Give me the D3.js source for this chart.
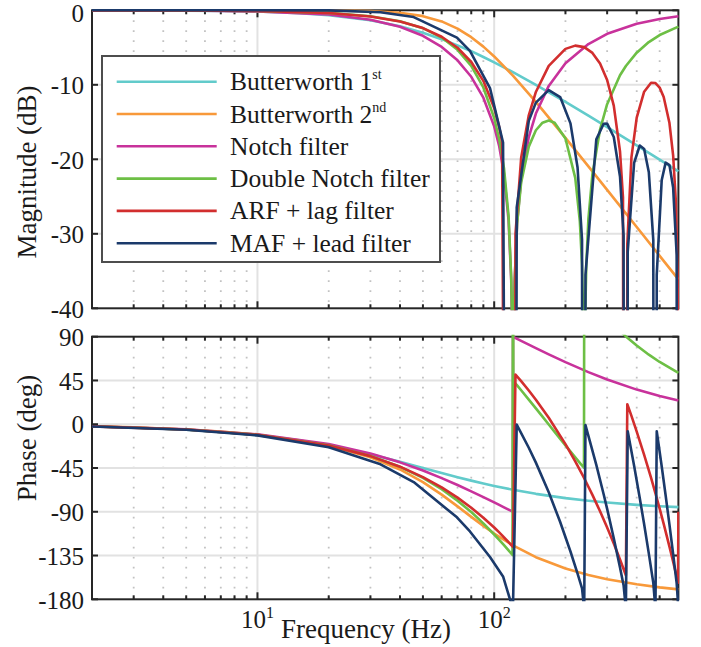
<!DOCTYPE html>
<html><head><meta charset="utf-8">
<script src="https://cdn.jsdelivr.net/npm/d3@7"></script>
<style>
body{margin:0;background:#fff}
text{font-family:"Liberation Serif","Times New Roman",serif;fill:#1a1a1a}
</style>
</head><body>
<svg id="c" width="701" height="647"></svg>
<script>
// ---------------- DATA ----------------
const seriesNames = ["Butterworth 1", "Butterworth 2", "Notch filter", "Double Notch filter", "ARF + lag filter", "MAF + lead filter"];
const seriesSup = ["st", "nd", "", "", "", ""];
const seriesColors = ["#62cbcb", "#f8993a", "#c8329b", "#6dbf45", "#d22e2e", "#1b3a6b"];

const magTicks = [-40, -30, -20, -10, 0];
const phaseTicks = [-180, -135, -90, -45, 0, 45, 90];
const freqMajor = [10, 100];
const freqMajorLabels = ["1", "2"];   // exponents of 10
const freqMinor = [2,3,4,5,6,7,8,9,20,30,40,50,60,70,80,90,200,300,400,500];

// Butterworth 1st / 2nd
const freqSmooth = [2,3,5,7,10,15,20,30,40,50,60,70,80,90,100,120,150,200,250,300,400,500,600];
const bw1Mag = [-0.007,-0.016,-0.043,-0.084,-0.170,-0.374,-0.645,-1.335,-2.148,-3.010,-3.874,-4.713,-5.487,-6.274,-6.990,-8.299,-10.000,-12.304,-14.150,-15.682,-18.129,-20.043,-21.614];
const bw1Phase = [-2.29,-3.43,-5.71,-7.97,-11.31,-16.70,-21.80,-30.96,-38.66,-45.00,-50.19,-54.46,-57.99,-60.95,-63.43,-67.38,-71.57,-75.96,-78.69,-80.54,-82.87,-84.29,-85.24];
const bw2Mag = [0,0,-0.0001,-0.0003,-0.0014,-0.007,-0.022,-0.110,-0.338,-0.783,-1.488,-2.453,-3.607,-4.876,-6.19,-8.78,-12.30,-17.12,-20.95,-24.10,-29.08,-32.96,-36.12];
const bw2Phase = [-2.16,-3.24,-5.41,-7.58,-10.87,-16.41,-22.1,-33.96,-46.5,-59.5,-72.35,-84.42,-95.22,-104.54,-112.4,-124.6,-136.7,-148.3,-155.0,-159.3,-164.6,-167.75,-169.8];

// Notch filter
const notchFreq = [2,5,10,20,30,40,50,60,70,80,90,100,105,110,115,118,119,119.9,120.1,121,122,125,130,140,150,170,200,250,300,400,500,600];
const notchMag = [-0.006,-0.036,-0.142,-0.565,-1.258,-2.213,-3.427,-4.914,-6.717,-8.924,-11.73,-15.58,-18.25,-21.95,-28.15,-36.2,-42.3,-62.3,-62.3,-42.3,-36.4,-28.5,-22.67,-17.02,-13.86,-10.15,-7.12,-4.53,-3.16,-1.80,-1.16,-0.81];
const notchPhase = [-2.07,-5.18,-10.34,-20.44,-30.1,-39.2,-47.6,-55.4,-62.5,-69.0,-75.0,-80.4,-82.98,-85.42,-87.76,-89.1,-89.56,-89.96,89.96,89.56,89.13,87.85,85.78,81.9,78.3,71.9,63.87,53.6,46.0,35.6,28.97,24.4];

// Double notch filter
const dnFreq = [2,5,10,20,30,40,50,60,70,80,90,100,105,110,115,118,119,119.5,120,120.5,121,122,125,130,140,150,160,170,180,200,220,230,235,238,239.5,240,240.5,242,245,250,260,280,300,340,360,400,450,500,600];
const dnMag = [-0.003,-0.021,-0.085,-0.346,-0.80,-1.47,-2.40,-3.66,-5.30,-7.47,-10.36,-14.45,-17.3,-21.2,-27.6,-35.8,-42.0,-48.1,-300,-48.2,-42.2,-36.3,-28.6,-23.1,-18.3,-16.1,-15.09,-14.8,-15.09,-17.2,-22.5,-28.3,-34.2,-42.1,-54.1,-300,-54.1,-42.1,-34.1,-28.0,-22.0,-16.0,-12.6,-8.72,-7.47,-5.69,-4.26,-3.32,-2.19];
const dnPhase = [-2.15,-5.37,-10.75,-21.6,-32.6,-43.8,-55.2,-66.8,-78.55,-90.3,-101.9,-113.4,-118.9,-124.4,-129.8,-132.9,-133.96,-134.5,200,44.5,43.97,42.94,39.89,34.9,25.35,16.3,7.8,-0.24,-7.8,-21.7,-34.0,-39.68,-42.4,-43.96,-44.7,134.8,134.7,133.97,132.4,129.97,125.2,116.6,108.8,95.8,90.3,80.9,71.5,64.0,52.85];

// ARF + lag filter
const arfFreq = [2,5,10,20,30,40,50,60,70,80,90,100,105,108,120,123,130,140,150,170,200,220,240,260,280,300,320,340,350,360,365,380,400,430,460,480,500,520,550,570,585,595,598,600];
const arfMag = [-0.004,-0.023,-0.091,-0.364,-0.829,-1.497,-2.39,-3.55,-5.03,-6.94,-9.47,-13.1,-15.68,-17.66,-300,-30.04,-19.79,-14.10,-10.96,-7.45,-5.18,-4.74,-4.94,-5.72,-7.14,-9.35,-12.80,-18.94,-25.09,-300,-31.39,-19.74,-14.40,-10.93,-9.73,-9.76,-10.38,-11.64,-15.14,-19.46,-25.53,-35.15,-43.1,-300];
const arfPhase = [-2.19,-5.49,-10.97,-21.91,-32.8,-43.63,-54.36,-64.98,-75.49,-85.87,-96.11,-106.22,-111.22,-114.2,-126.03,51.05,44.27,34.69,25.23,6.64,-20.5,-38.13,-55.49,-72.6,-89.49,-106.19,-122.72,-139.11,-147.26,-155.38,20.58,8.6,-7.58,-31.5,-55.27,-71.03,-86.74,-102.4,-125.8,-141.36,-153,-160.75,-163.07,-90];

// MAF + lead filter
const mafFreq = [2,5,10,20,33.1,45.7,69.6,79,96,109,120,124.5,140,150,170,190,210,225,235,240,243,270,290,300,320,340,352,360,366.5,390,412,430,450,470,480,486,510,530,550,570,590,600];
const mafMag = [0,0.003,0.009,-0.014,-0.26,-0.91,-3.66,-5.45,-10.44,-17.75,-300,-26.47,-14.84,-12.39,-10.71,-11.64,-15.18,-21.1,-30.8,-300,-35.5,-17.32,-15.22,-15.21,-17.01,-22.31,-30.23,-300,-32.4,-20.49,-18.15,-18.63,-21.73,-30.84,-300,-35.5,-22.82,-20.45,-20.77,-23.79,-32.81,-300];
const mafPhase = [-2.26,-5.67,-11.46,-23.67,-41.23,-59.44,-95.74,-110.22,-136.48,-156.54,-190,-0.4,-24.18,-39.48,-70.02,-100.47,-130.85,-153.6,-168.75,-190,-0.87,-41.76,-71.97,-87.07,-117.25,-147.41,-165.5,-190,-7.3,-42.7,-75.82,-102.9,-133,-163.1,-190,-7.14,-43.2,-73.3,-103.3,-133.4,-163.45,-190];

// ---------------- CHART ----------------
const zip = (f, v) => f.map((d, i) => [d, v[i]]);
const series = [
  {mag: zip(freqSmooth, bw1Mag), ph: zip(freqSmooth, bw1Phase)},
  {mag: zip(freqSmooth, bw2Mag), ph: zip(freqSmooth, bw2Phase)},
  {mag: zip(notchFreq, notchMag), ph: zip(notchFreq, notchPhase)},
  {mag: zip(dnFreq, dnMag), ph: zip(dnFreq, dnPhase)},
  {mag: zip(arfFreq, arfMag), ph: zip(arfFreq, arfPhase)},
  {mag: zip(mafFreq, mafMag), ph: zip(mafFreq, mafPhase)}
];

const svg = d3.select("#c");
const x = d3.scaleLog().domain([2, 600]).range([92, 678.4]);
const X0 = x.range()[0], X1 = x.range()[1];

const panels = [
  {key: "mag", y: d3.scaleLinear().domain([-40, 0]).range([308.3, 10.3]), ticks: magTicks},
  {key: "ph", y: d3.scaleLinear().domain([-180, 90]).range([599.3, 336.7]), ticks: phaseTicks}
];

const defs = svg.append("defs");

panels.forEach((p, pi) => {
  const y = p.y;
  const Y0 = y.range()[1], Y1 = y.range()[0];
  const g = svg.append("g");

  defs.append("clipPath").attr("id", "clip" + pi)
    .append("rect").attr("x", X0 - 1).attr("y", Y0 - 2).attr("width", X1 - X0 + 2).attr("height", Y1 - Y0 + 4);

  // minor x grid (dotted)
  g.selectAll(".mg").data(freqMinor).join("line")
    .attr("x1", d => x(d)).attr("x2", d => x(d)).attr("y1", Y0).attr("y2", Y1)
    .attr("stroke", "#c2c2c2").attr("stroke-width", 1.8).attr("stroke-dasharray", "1.8,8.2");
  // major x grid
  g.selectAll(".Mg").data(freqMajor).join("line")
    .attr("x1", d => x(d)).attr("x2", d => x(d)).attr("y1", Y0).attr("y2", Y1)
    .attr("stroke", "#e2e2e2").attr("stroke-width", 2);
  // major y grid
  g.selectAll(".yg").data(p.ticks.slice(1, -1)).join("line")
    .attr("x1", X0).attr("x2", X1).attr("y1", d => y(d)).attr("y2", d => y(d))
    .attr("stroke", "#e2e2e2").attr("stroke-width", 2);

  // box
  g.append("rect").attr("x", X0).attr("y", Y0).attr("width", X1 - X0).attr("height", Y1 - Y0)
    .attr("fill", "none").attr("stroke", "#262626").attr("stroke-width", 2);

  // ticks x (bottom & top, inward)
  const tick = (vals, len) => {
    g.selectAll(null).data(vals).join("line")
      .attr("x1", d => x(d)).attr("x2", d => x(d)).attr("y1", Y1).attr("y2", Y1 - len)
      .attr("stroke", "#262626").attr("stroke-width", 2);
    g.selectAll(null).data(vals).join("line")
      .attr("x1", d => x(d)).attr("x2", d => x(d)).attr("y1", Y0).attr("y2", Y0 + len)
      .attr("stroke", "#262626").attr("stroke-width", 2);
  };
  tick(freqMinor, 4);
  tick(freqMajor, 7);
  // ticks y (left & right, inward)
  g.selectAll(null).data(p.ticks).join("line")
    .attr("x1", X0).attr("x2", X0 + 6).attr("y1", d => y(d)).attr("y2", d => y(d))
    .attr("stroke", "#262626").attr("stroke-width", 2);
  g.selectAll(null).data(p.ticks).join("line")
    .attr("x1", X1).attr("x2", X1 - 6).attr("y1", d => y(d)).attr("y2", d => y(d))
    .attr("stroke", "#262626").attr("stroke-width", 2);

  // y tick labels (the top one of the magnitude panel nudged down to stay inside the page)
  g.selectAll(null).data(p.ticks).join("text")
    .attr("x", 84).attr("y", d => y(d) + ((pi === 0 && d === 0) ? 2.5 : 0)).attr("dy", "0.37em")
    .attr("text-anchor", "end").attr("font-size", 25)
    .text(d => d);

  // data lines
  const line = d3.line().x(d => x(d[0])).y(d => y(d[1]));
  const lg = g.append("g").attr("clip-path", `url(#clip${pi})`);
  series.forEach((s, i) => {
    lg.append("path").attr("d", line(s[p.key]))
      .attr("fill", "none").attr("stroke", seriesColors[i])
      .attr("stroke-width", 2.6).attr("stroke-linejoin", "round");
  });
});

// x tick labels (10^n)
freqMajor.forEach((f, i) => {
  const t = svg.append("text").attr("x", x(f)).attr("y", 628)
    .attr("text-anchor", "middle").attr("font-size", 25);
  t.append("tspan").text("10");
  t.append("tspan").attr("font-size", 16).attr("dy", -10).text(freqMajorLabels[i]);
});

// axis labels
svg.append("text").attr("transform", "translate(36,172) rotate(-90)")
  .attr("text-anchor", "middle").attr("font-size", 27).text("Magnitude (dB)");
svg.append("text").attr("transform", "translate(36,438) rotate(-90)")
  .attr("text-anchor", "middle").attr("font-size", 27).text("Phase (deg)");
svg.append("text").attr("x", 366).attr("y", 638)
  .attr("text-anchor", "middle").attr("font-size", 27).text("Frequency (Hz)");

// legend
const lgd = svg.append("g");
lgd.append("rect").attr("x", 102).attr("y", 56).attr("width", 338).attr("height", 206)
  .attr("fill", "#fff").attr("stroke", "#4d4d4d").attr("stroke-width", 2);
seriesNames.forEach((n, i) => {
  const yy = 81.7 + i * 32.3;
  lgd.append("line").attr("x1", 116.7).attr("x2", 216.7).attr("y1", yy).attr("y2", yy)
    .attr("stroke", seriesColors[i]).attr("stroke-width", 2.6);
  const t = lgd.append("text").attr("x", 230).attr("y", yy + 8.5).attr("font-size", 25.5);
  t.append("tspan").text(n);
  if (seriesSup[i]) t.append("tspan").attr("font-size", 14).attr("dy", -11).text(seriesSup[i]);
});
</script>
</body></html>
